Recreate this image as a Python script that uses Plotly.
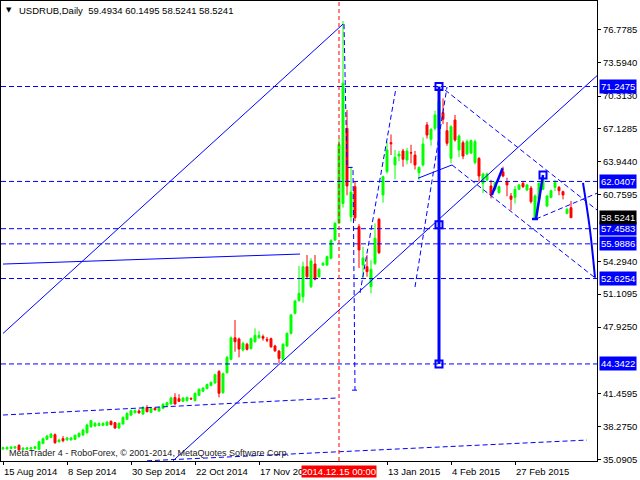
import plotly.graph_objects as go

# ---------------- data ----------------
symbol_text = "USDRUB,Daily  59.4934 60.1495 58.5241 58.5241"
footer_text = "MetaTrader 4 - RoboForex, \u00a9 2001-2014, MetaQuotes Software Corp."

opens = [36.10, 36.10, 36.15, 36.18, 36.45, 36.05, 36.08, 36.10, 36.15, 36.06,
         36.64, 37.03, 37.22, 37.48, 36.80, 37.10, 36.98, 36.98, 37.03, 37.29,
         37.45, 37.67, 38.26, 38.32, 38.39, 38.39, 38.39, 38.77, 38.64, 38.13,
         38.52, 38.97, 39.39, 39.61, 39.78, 39.48, 40.13, 39.65, 40.04, 39.78,
         40.04, 40.29, 40.46, 41.10, 40.97, 40.72, 40.78, 41.00, 40.78, 41.30,
         41.70, 41.95, 42.25, 42.50, 43.60, 41.55, 43.50, 44.79, 46.88, 46.76,
         45.69, 46.25, 45.82, 46.50, 46.88, 47.00, 46.72, 46.79, 46.08, 45.59,
         44.79, 46.08, 47.31, 49.26, 50.48, 50.86, 53.77, 51.83, 54.03, 52.80,
         53.94, 53.94, 54.59, 56.36, 58.00, 59.90, 67.19, 58.60, 61.53, 57.65,
         53.94, 53.77, 51.83, 54.10, 58.37, 60.73, 62.99, 65.80, 63.64, 64.50,
         65.00, 64.12, 64.83, 64.60, 62.89, 63.64, 67.52, 66.13, 67.19, 67.19,
         68.71, 66.96, 64.28, 68.00, 65.09, 65.80, 64.70, 64.80, 63.86, 64.28,
         61.86, 62.18, 61.60, 61.28, 60.95, 62.98, 62.02, 60.63, 60.50, 61.28,
         61.86, 61.21, 61.40, 58.47, 60.31, 61.28, 59.66, 60.50, 61.47, 61.47,
         61.05, 58.95, 59.4934]
highs = [36.30, 36.32, 36.35, 36.38, 36.55, 36.25, 36.28, 36.30, 36.38, 36.90,
         37.20, 37.45, 37.65, 37.60, 37.10, 37.35, 37.25, 37.25, 37.50, 37.70,
         38.05, 38.55, 38.90, 38.70, 38.68, 38.68, 38.80, 38.88, 38.72, 38.66,
         39.25, 39.65, 39.92, 39.95, 39.95, 40.25, 40.35, 40.12, 40.12, 40.22,
         40.55, 40.68, 41.15, 41.50, 41.40, 41.12, 41.18, 41.10, 41.58, 41.98,
         42.10, 42.45, 42.65, 43.40, 43.75, 43.50, 45.10, 47.00, 48.60, 46.90,
         46.50, 46.40, 46.90, 47.79, 47.53, 47.20, 46.95, 46.90, 46.20, 45.70,
         46.35, 47.40, 49.20, 50.55, 53.84, 54.26, 54.91, 54.60, 54.91, 53.65,
         54.25, 54.85, 56.45, 58.10, 66.16, 77.60, 68.97, 63.47, 62.02, 57.90,
         55.70, 54.90, 54.40, 57.98, 58.50, 62.60, 65.90, 66.60, 65.09, 65.00,
         65.20, 65.30, 65.60, 65.00, 63.50, 66.30, 67.80, 67.20, 68.90, 71.20,
         70.10, 67.80, 67.50, 68.49, 66.60, 66.00, 66.10, 66.10, 66.10, 64.40,
         62.90, 62.90, 62.20, 62.05, 61.65, 63.47, 62.40, 60.92, 61.60, 61.80,
         62.00, 61.80, 61.60, 60.80, 61.95, 62.30, 60.70, 61.25, 62.20, 61.60,
         61.15, 59.45, 60.1495]
lows = [36.02, 36.05, 36.08, 36.10, 35.95, 35.98, 36.00, 36.02, 36.08, 36.00,
        36.55, 36.95, 37.15, 36.60, 36.72, 36.75, 36.90, 36.92, 36.95, 37.20,
        37.38, 37.60, 38.15, 38.25, 38.30, 38.32, 38.32, 38.40, 38.05, 38.05,
        38.45, 38.90, 39.30, 39.55, 39.50, 39.40, 39.65, 39.58, 39.82, 39.70,
        39.98, 40.20, 40.40, 40.40, 40.65, 40.65, 40.70, 40.88, 40.70, 41.22,
        41.62, 41.88, 42.18, 42.42, 41.10, 41.45, 43.40, 44.70, 45.53, 44.98,
        45.55, 45.65, 45.75, 46.40, 46.80, 46.60, 46.45, 45.90, 45.50, 44.40,
        44.70, 46.00, 47.20, 49.15, 50.40, 50.28, 52.55, 51.70, 52.45, 52.70,
        53.85, 53.85, 54.50, 56.25, 57.90, 59.50, 60.70, 58.14, 58.20, 53.65,
        52.65, 52.80, 51.19, 53.94, 55.00, 59.98, 62.80, 64.60, 62.25, 64.00,
        63.47, 63.70, 63.80, 63.20, 62.20, 63.50, 66.20, 65.50, 67.00, 66.30,
        67.60, 65.50, 63.80, 65.90, 64.40, 64.20, 64.60, 64.70, 63.70, 62.00,
        60.90, 62.05, 60.40, 61.15, 60.85, 62.45, 60.60, 59.27, 59.90, 61.20,
        61.40, 61.10, 59.90, 58.35, 60.20, 61.20, 59.55, 60.40, 61.10, 60.70,
        60.30, 58.85, 58.5241]
closes = [36.22, 36.25, 36.28, 36.30, 36.00, 36.18, 36.20, 36.22, 36.30, 36.80,
          37.09, 37.35, 37.54, 36.70, 36.96, 36.90, 37.16, 37.16, 37.42, 37.61,
          37.93, 38.42, 38.84, 38.58, 38.58, 38.58, 38.71, 38.45, 38.13, 38.58,
          39.16, 39.55, 39.81, 39.81, 39.61, 40.13, 39.71, 40.04, 39.90, 40.13,
          40.43, 40.58, 41.04, 40.46, 40.72, 41.04, 41.10, 40.94, 41.49, 41.88,
          42.00, 42.35, 42.55, 43.30, 41.50, 43.40, 44.98, 46.88, 46.50, 45.79,
          46.34, 45.76, 46.79, 47.12, 47.12, 46.84, 46.65, 46.01, 45.62, 44.88,
          46.25, 47.31, 49.09, 50.45, 51.19, 53.77, 52.80, 54.33, 52.55, 53.52,
          54.10, 54.74, 56.30, 57.98, 65.64, 71.56, 61.60, 61.00, 58.52, 55.39,
          54.62, 53.29, 53.52, 56.53, 55.13, 62.50, 65.09, 65.70, 64.38, 64.70,
          64.19, 64.99, 64.80, 63.64, 63.40, 65.67, 66.54, 67.10, 68.49, 69.78,
          68.07, 65.74, 67.35, 66.06, 66.45, 64.50, 65.90, 66.00, 65.90, 62.57,
          62.76, 62.76, 60.73, 61.92, 61.53, 62.57, 61.70, 60.31, 61.28, 61.70,
          61.53, 61.70, 60.08, 60.63, 61.86, 62.18, 60.63, 61.14, 61.92, 61.14,
          60.73, 59.34, 58.5241]

# x-axis labels (bar index -> label)
date_ticks = [0, 16, 32, 48, 64, 96, 112, 128]
date_labels = ["15 Aug 2014", "8 Sep 2014", "30 Sep 2014", "22 Oct 2014",
               "17 Nov 2014", "13 Jan 2015", "4 Feb 2015", "27 Feb 2015"]
cursor_bar = 84
cursor_label = "2014.12.15 00:00"

# y-axis labels
price_ticks = [35.0905, 38.2750, 41.4595, 47.9250, 51.1095, 54.2940,
               60.7595, 63.9440, 67.1285, 70.3130, 73.5940, 76.7785]
levels = [71.2475, 62.0407, 57.4583, 55.9886, 52.6254, 44.3422]
last_price = 58.5241

# analyst drawings (bar index, price)
solid_lines = [
    ([0, 85], [47.3, 77.3]),
    ([42.5, 148.5], [34.95, 72.3]),
    ([0, 74.25], [54.03, 55.0]),
    ([103.75, 112.25], [62.35, 63.64]),
]
dashed_lines = [
    ([0, 83.5], [39.39, 41.04]),
    ([36, 146], [34.95, 36.96]),
    ([85.25, 86.0, 87.5, 88], [77.3, 63.4, 63.4, 41.8]),
    ([87.25, 88.75], [41.8, 41.8]),
    ([89.25, 98.25], [51.22, 71.1]),
    ([103, 111], [51.8, 71.2]),
    ([110.5, 148.5], [70.91, 59.27]),
    ([112.25, 148], [63.64, 52.7]),
    ([133.25, 148.5], [58.4, 60.9]),
]
bold_lines = [
    ([145, 146.75, 148], [61.9, 57.33, 52.7]),
]
zigzag_lines = [
    ([122.2, 124.9], [60.73, 63.32]),
    ([132.25, 133.75], [58.4, 58.4]),
    ([133.25, 134.2, 135], [58.4, 60.8, 62.67]),
]
wave_x = [109, 109]
wave_y = [71.2475, 44.3422]
square_x = [109, 109, 109, 135]
square_y = [71.2475, 57.85, 44.3422, 62.67]

BLUE = "#0000ff"
FONT = "Liberation Sans, Arial, sans-serif"
Y_RANGE = [34.93, 79.54]

fig = go.Figure()
bars = list(range(len(opens)))

# drawings below candles
for xs, ys in solid_lines:
    fig.add_trace(go.Scatter(x=xs, y=ys, mode="lines", line=dict(color=BLUE, width=1),
                             hoverinfo="skip", showlegend=False))
for xs, ys in dashed_lines:
    fig.add_trace(go.Scatter(x=xs, y=ys, mode="lines",
                             line=dict(color=BLUE, width=1, dash="5px,3px"),
                             hoverinfo="skip", showlegend=False))
for lv in levels:
    fig.add_trace(go.Scatter(x=[-0.5, 148.5], y=[lv, lv], mode="lines",
                             line=dict(color=BLUE, width=1, dash="5px,3px"),
                             hoverinfo="skip", showlegend=False))
# cursor line
fig.add_trace(go.Scatter(x=[cursor_bar, cursor_bar], y=Y_RANGE, mode="lines",
                         line=dict(color="#ff0000", width=1, dash="4px,3px"),
                         hoverinfo="skip", showlegend=False))

fig.add_trace(go.Candlestick(
    x=bars, open=opens, high=highs, low=lows, close=closes,
    increasing=dict(line=dict(color="#00ff00", width=1), fillcolor="#00ff00"),
    decreasing=dict(line=dict(color="#ff0000", width=1), fillcolor="#ff0000"),
    whiskerwidth=0, showlegend=False, hoverinfo="skip"))

for xs, ys in bold_lines:
    fig.add_trace(go.Scatter(x=xs, y=ys, mode="lines", line=dict(color=BLUE, width=2, shape="spline"),
                             hoverinfo="skip", showlegend=False))
for xs, ys in zigzag_lines:
    fig.add_trace(go.Scatter(x=xs, y=ys, mode="lines", line=dict(color=BLUE, width=2.5),
                             hoverinfo="skip", showlegend=False))
fig.add_trace(go.Scatter(x=wave_x, y=wave_y, mode="lines", line=dict(color=BLUE, width=3),
                         hoverinfo="skip", showlegend=False))
fig.add_trace(go.Scatter(x=square_x, y=square_y, mode="markers",
                         marker=dict(symbol="square-open", size=7, color=BLUE, line=dict(width=2, color=BLUE)),
                         hoverinfo="skip", showlegend=False))

annotations = []
annotations.append(dict(xref="paper", yref="paper", x=0, y=1, xshift=3, yshift=-3,
                        xanchor="left", yanchor="top", showarrow=False,
                        text="\u25bc", font=dict(family="DejaVu Sans", size=7, color="black")))
annotations.append(dict(xref="paper", yref="paper", x=0, y=1, xshift=16, yshift=-2,
                        xanchor="left", yanchor="top", showarrow=False,
                        text=symbol_text, font=dict(family=FONT, size=9.5, color="black")))
annotations.append(dict(xref="paper", yref="paper", x=0, y=0, xshift=6, yshift=1,
                        xanchor="left", yanchor="bottom", showarrow=False,
                        text=footer_text, font=dict(family=FONT, size=9, color="#202020")))
for b, lab in zip(date_ticks, date_labels):
    annotations.append(dict(xref="x", yref="paper", x=b, y=0, xshift=-1, yshift=-3,
                            xanchor="left", yanchor="top", showarrow=False,
                            text=lab, font=dict(family=FONT, size=9.5, color="black")))
annotations.append(dict(xref="x", yref="paper", x=cursor_bar, y=0, yshift=-4,
                        xanchor="center", yanchor="top", showarrow=False,
                        text=cursor_label, bgcolor="#ff0000", borderpad=0,
                        font=dict(family=FONT, size=9.5, color="white")))
for lv in levels:
    annotations.append(dict(xref="paper", yref="y", x=1, y=lv, xshift=2,
                            xanchor="left", yanchor="middle", showarrow=False,
                            text=f"{lv:.4f}", bgcolor=BLUE, borderpad=1,
                            font=dict(family=FONT, size=9.5, color="white")))
annotations.append(dict(xref="paper", yref="y", x=1, y=last_price, xshift=2,
                        xanchor="left", yanchor="middle", showarrow=False,
                        text=f"{last_price:.4f}", bgcolor="black", borderpad=1,
                        font=dict(family=FONT, size=9.5, color="white")))

fig.update_layout(
    width=640, height=480,
    margin=dict(l=1, r=43, t=1, b=19),
    paper_bgcolor="white", plot_bgcolor="white",
    showlegend=False,
    annotations=annotations,
    xaxis=dict(range=[-0.5, 148.5], showgrid=False, zeroline=False,
               showline=True, mirror=True, linecolor="black", linewidth=1,
               ticks="outside", ticklen=3, tickcolor="black",
               tickvals=date_ticks, showticklabels=False,
               rangeslider=dict(visible=False), fixedrange=True),
    yaxis=dict(range=Y_RANGE, side="right", showgrid=False, zeroline=False,
               showline=True, mirror=True, linecolor="black", linewidth=1,
               ticks="outside", ticklen=3, tickcolor="black",
               tickvals=price_ticks, ticktext=[f"{v:.4f}" for v in price_ticks],
               tickfont=dict(family=FONT, size=9.5, color="black"), fixedrange=True),
)

fig.write_html("out.html", config={"displayModeBar": False},
               post_script="document.body.style.margin='0';document.body.style.overflow='hidden';")
